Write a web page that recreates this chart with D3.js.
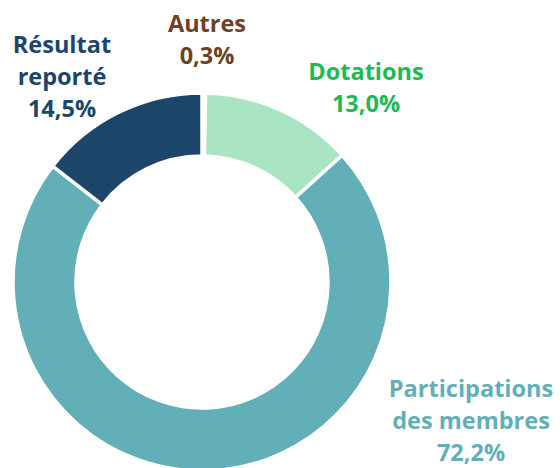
<!DOCTYPE html>
<html>
<head>
<meta charset="utf-8">
<script src="https://cdn.jsdelivr.net/npm/d3@7"></script>
<style>
  html, body { margin: 0; padding: 0; background: #fff; }
  svg { display: block; }
</style>
</head>
<body>
<svg id="chart" width="560" height="468"></svg>
<script>
// data, in drawing order clockwise from 12 o'clock
const categories = ["Autres", "Dotations", "Participations des membres", "Résultat reporté"];
const values = [0.3, 13.0, 72.2, 14.5];
const labelLines = [["Autres"], ["Dotations"], ["Participations", "des membres"], ["Résultat", "reporté"]];

const sliceColors = ["#6b4226", "#a9e5c2", "#62afb8", "#1b4569"];
const labelColors = ["#6b4226", "#1db954", "#62afb8", "#1b4569"];
// label anchor (center x, first baseline y)
const labelAt = [[207, 32], [366, 80], [471, 397], [62, 53]];

const svg = d3.select("#chart");
const cx = 202, cy = 282;
const outerR = 189, innerR = 126;

const pie = d3.pie().sort(null).value(d => d.value);
const arc = d3.arc().innerRadius(innerR).outerRadius(outerR);

const data = categories.map((c, i) => ({ name: c, value: values[i], i }));
const fmt = v => d3.format(".1f")(v).replace(".", ",") + "%";

const g = svg.append("g").attr("transform", `translate(${cx},${cy})`);

g.selectAll("path")
  .data(pie(data))
  .enter()
  .append("path")
  .attr("d", arc)
  .attr("fill", d => sliceColors[d.data.i])
  .attr("stroke", "#fff")
  .attr("stroke-width", 3.5);

// labels
const lineH = 32;
const labels = svg.selectAll(".lbl")
  .data(data)
  .enter()
  .append("text")
  .attr("class", "lbl")
  .attr("text-anchor", "middle")
  .attr("fill", d => labelColors[d.i])
  .style("font-family", "'Open Sans', sans-serif")
  .style("font-weight", "700")
  .style("font-size", "23.5px");

labels.each(function(d) {
  const t = d3.select(this);
  const [x, y] = labelAt[d.i];
  const lines = labelLines[d.i].concat([fmt(d.value)]);
  lines.forEach((s, k) => {
    t.append("tspan").attr("x", x).attr("y", y + k * lineH).text(s);
  });
});
</script>
</body>
</html>
